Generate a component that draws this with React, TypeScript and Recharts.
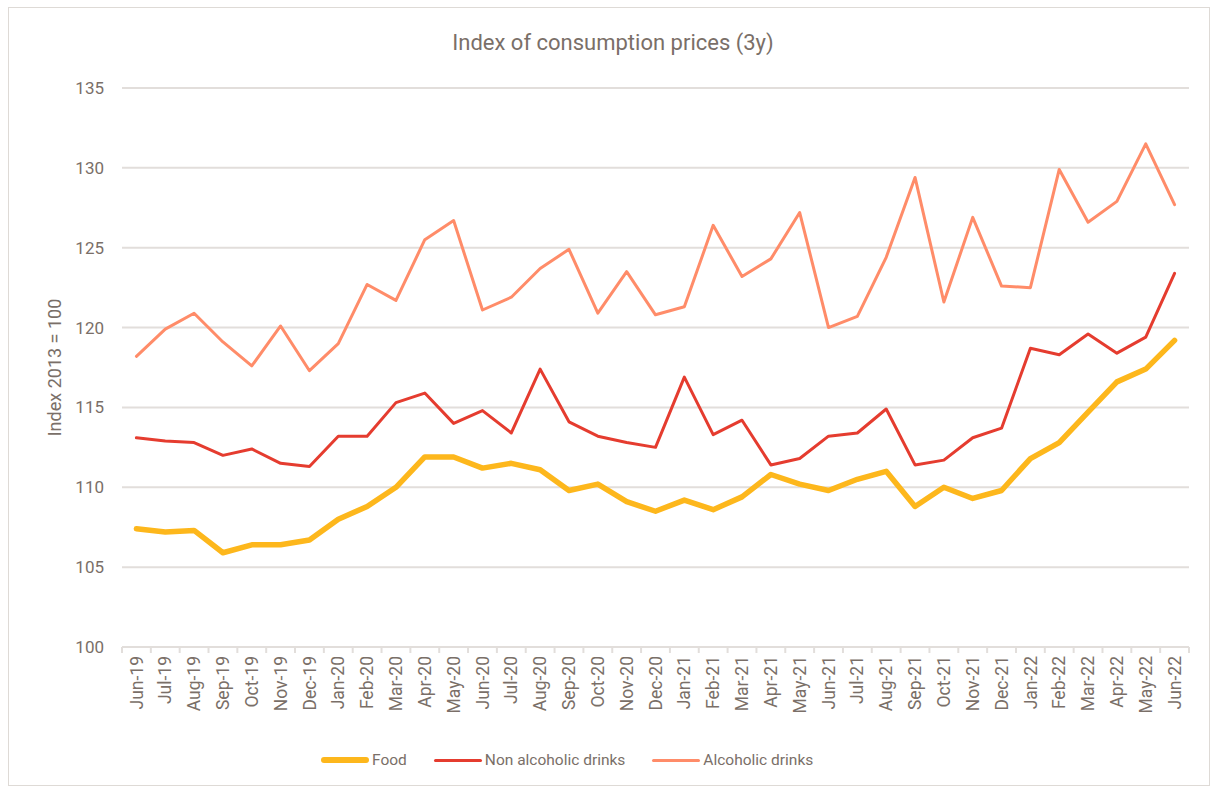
import React from "react";
import {
  LineChart,
  Line,
  XAxis,
  YAxis,
  CartesianGrid,
  Legend
} from "recharts";

const months = [
  "Jun-19", "Jul-19", "Aug-19", "Sep-19", "Oct-19", "Nov-19", "Dec-19",
  "Jan-20", "Feb-20", "Mar-20", "Apr-20", "May-20", "Jun-20", "Jul-20",
  "Aug-20", "Sep-20", "Oct-20", "Nov-20", "Dec-20", "Jan-21", "Feb-21",
  "Mar-21", "Apr-21", "May-21", "Jun-21", "Jul-21", "Aug-21", "Sep-21",
  "Oct-21", "Nov-21", "Dec-21", "Jan-22", "Feb-22", "Mar-22", "Apr-22",
  "May-22", "Jun-22"
];

const food = [
  107.4, 107.2, 107.3, 105.9, 106.4, 106.4, 106.7, 108.0, 108.8, 110.0,
  111.9, 111.9, 111.2, 111.5, 111.1, 109.8, 110.2, 109.1, 108.5, 109.2,
  108.6, 109.4, 110.8, 110.2, 109.8, 110.5, 111.0, 108.8, 110.0, 109.3,
  109.8, 111.8, 112.8, 114.7, 116.6, 117.4, 119.2
];

const nonAlcoholic = [
  113.1, 112.9, 112.8, 112.0, 112.4, 111.5, 111.3, 113.2, 113.2, 115.3,
  115.9, 114.0, 114.8, 113.4, 117.4, 114.1, 113.2, 112.8, 112.5, 116.9,
  113.3, 114.2, 111.4, 111.8, 113.2, 113.4, 114.9, 111.4, 111.7, 113.1,
  113.7, 118.7, 118.3, 119.6, 118.4, 119.4, 123.4
];

const alcoholic = [
  118.2, 119.9, 120.9, 119.1, 117.6, 120.1, 117.3, 119.0, 122.7, 121.7,
  125.5, 126.7, 121.1, 121.9, 123.7, 124.9, 120.9, 123.5, 120.8, 121.3,
  126.4, 123.2, 124.3, 127.2, 120.0, 120.7, 124.4, 129.4, 121.6, 126.9,
  122.6, 122.5, 129.9, 126.6, 127.9, 131.5, 127.7
];

const yTicks = [100, 105, 110, 115, 120, 125, 130, 135];

const series = [
  { key: "food", name: "Food", color: "#FDB71C", width: 5.5 },
  { key: "nonAlcoholic", name: "Non alcoholic drinks", color: "#E53C2F", width: 3 },
  { key: "alcoholic", name: "Alcoholic drinks", color: "#FF8C69", width: 3 }
];

const data = months.map((m, i) => ({
  month: m,
  food: food[i],
  nonAlcoholic: nonAlcoholic[i],
  alcoholic: alcoholic[i]
}));

const TEXT = "#7a6f68";
const GRID = "#e2dedb";
const FONT = "Roboto, sans-serif";

const W = 1214;
const H = 789;
const PLOT_LEFT = 122;
const PLOT_RIGHT = 1189;
const HALF = (PLOT_RIGHT - PLOT_LEFT) / months.length / 2;

const MonthTick = (props: any) => {
  const { x, y, payload, index } = props;
  const ty = y + 9;
  return (
    <g>
      <line x1={x - HALF} x2={x - HALF} y1={y} y2={y + 6} stroke={GRID} strokeWidth={2} />
      {index === months.length - 1 && (
        <line x1={x + HALF} x2={x + HALF} y1={y} y2={y + 6} stroke={GRID} strokeWidth={2} />
      )}
      <text
        x={x}
        y={ty}
        dy="0.35em"
        textAnchor="end"
        transform={`rotate(-90, ${x}, ${ty})`}
        fill={TEXT}
        fontSize={17.5}
        fontFamily={FONT}
      >
        {payload.value}
      </text>
    </g>
  );
};

const LegendBox = () => (
  <div style={{ display: "flex", alignItems: "center", paddingLeft: 321, fontFamily: FONT }}>
    {series.map((s) => (
      <div key={s.key} style={{ display: "flex", alignItems: "center", marginRight: 27 }}>
        <span
          style={{
            display: "inline-block",
            width: 48,
            height: s.width,
            borderRadius: 3,
            background: s.color,
            marginRight: 3
          }}
        />
        <span style={{ color: TEXT, fontSize: 15.5 }}>{s.name}</span>
      </div>
    ))}
  </div>
);

export default function App() {
  return (
    <div style={{ position: "fixed", left: 0, top: 0, width: W, height: H, background: "#fff" }}>
      <div
        style={{
          position: "absolute",
          left: 8,
          top: 7,
          width: 1200,
          height: 777,
          border: "1px solid #dedad6"
        }}
      />
      <div
        style={{
          position: "absolute",
          left: 6,
          top: 30,
          width: W,
          textAlign: "center",
          color: TEXT,
          fontFamily: FONT,
          fontSize: 22
        }}
      >
        Index of consumption prices (3y)
      </div>
      <div style={{ position: "absolute", left: 0, top: 0 }}>
        <LineChart
          width={W}
          height={H}
          data={data}
          margin={{ top: 88, right: W - PLOT_RIGHT, left: 40, bottom: 20 }}
        >
          <CartesianGrid vertical={false} stroke={GRID} strokeWidth={2} />
          <XAxis
            dataKey="month"
            interval={0}
            height={104}
            padding={{ left: HALF, right: HALF }}
            axisLine={{ stroke: GRID, strokeWidth: 2 }}
            tickLine={false}
            tickSize={0}
            tickMargin={0}
            tick={<MonthTick />}
          />
          <YAxis
            width={PLOT_LEFT - 40}
            domain={[100, 135]}
            ticks={yTicks}
            interval={0}
            axisLine={false}
            tickLine={false}
            tickSize={0}
            tickMargin={18}
            tick={{ fill: TEXT, fontSize: 17, fontFamily: FONT }}
            label={{
              value: "Index 2013 = 100",
              angle: -90,
              position: "insideLeft",
              offset: 15,
              fill: TEXT,
              fontSize: 18,
              fontFamily: FONT,
              style: { textAnchor: "middle" }
            }}
          />
          <Legend verticalAlign="bottom" wrapperStyle={{ left: 0, width: W }} content={<LegendBox />} />
          {series.map((s) => (
            <Line
              key={s.key}
              type="linear"
              dataKey={s.key}
              name={s.name}
              stroke={s.color}
              strokeWidth={s.width}
              strokeLinecap="round"
              strokeLinejoin="round"
              dot={false}
              activeDot={false}
              isAnimationActive={false}
            />
          ))}
        </LineChart>
      </div>
    </div>
  );
}
